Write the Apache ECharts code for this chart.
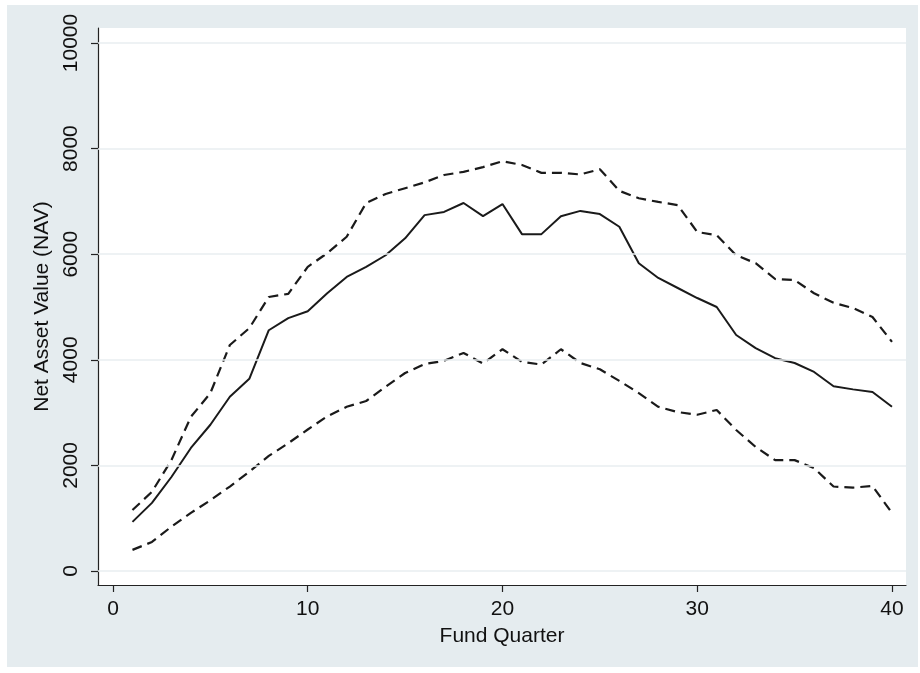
<!DOCTYPE html>
<html>
<head>
<meta charset="utf-8">
<script src="https://cdn.jsdelivr.net/npm/echarts@6/dist/echarts.min.js"></script>
<style>
html,body{margin:0;padding:0;background:#ffffff;}
#c{width:920px;height:673px;}
</style>
</head>
<body>
<div id="c"></div>
<script>
const quarters = [1,2,3,4,5,6,7,8,9,10,11,12,13,14,15,16,17,18,19,20,21,22,23,24,25,26,27,28,29,30,31,32,33,34,35,36,37,38,39,40];
const navMean = [930,1290,1780,2330,2770,3300,3640,4560,4790,4920,5260,5570,5760,5980,6300,6740,6800,6970,6720,6950,6380,6380,6720,6820,6760,6520,5830,5550,5360,5170,5000,4470,4220,4030,3940,3770,3500,3440,3390,3110];
const navUpper = [1155,1500,2100,2920,3370,4280,4600,5190,5250,5760,6020,6330,6970,7140,7250,7360,7500,7560,7650,7760,7690,7540,7540,7510,7610,7200,7060,6990,6930,6420,6360,5980,5830,5530,5510,5260,5080,4980,4810,4340];
const navLower = [400,550,840,1100,1340,1600,1880,2180,2420,2680,2930,3110,3220,3490,3750,3920,3980,4130,3930,4200,3960,3910,4200,3940,3820,3600,3370,3110,3010,2960,3050,2670,2350,2100,2100,1950,1600,1580,1610,1100];
const xTicks = [0,10,20,30,40];
const yTicks = [0,2000,4000,6000,8000,10000];

const pair = arr => quarters.map((q,i)=>[q,arr[i]]);
const font = '"Liberation Sans", Arial, Helvetica, sans-serif';
const chart = echarts.init(document.getElementById('c'), null, {renderer:'canvas'});
const lineCol = '#1a1a1a';

chart.setOption({
  animation:false,
  backgroundColor:'#ffffff',
  graphic:[{type:'rect', z:-10, shape:{x:7,y:5,width:911,height:662}, style:{fill:'#e5ecef'}}],
  grid:{left:98,right:14,top:28,bottom:88,show:true,backgroundColor:'#ffffff',borderWidth:0},
  xAxis:{
    type:'value', min:-0.77, max:40.72,
    name:'Fund Quarter', nameLocation:'middle', nameGap:41,
    nameTextStyle:{fontFamily:font,fontSize:21,color:'#111'},
    axisLine:{show:true,onZero:false,lineStyle:{color:'#222',width:1.2}},
    axisTick:{show:true,length:7,customValues:xTicks,lineStyle:{color:'#222',width:1.2}},
    axisLabel:{customValues:xTicks,margin:14,fontFamily:font,fontSize:21,color:'#111',formatter:v=>String(v)},
    splitLine:{show:false}
  },
  yAxis:{
    type:'value', min:-265, max:10284,
    name:'Net Asset Value (NAV)', nameLocation:'middle', nameGap:40,
    nameTextStyle:{fontFamily:font,fontSize:21,color:'#111'},
    axisLine:{show:true,onZero:false,lineStyle:{color:'#222',width:1.2}},
    axisTick:{show:true,length:7,customValues:yTicks,lineStyle:{color:'#222',width:1.2}},
    axisLabel:{customValues:yTicks,rotate:90,margin:16,fontFamily:font,fontSize:21,color:'#111',formatter:v=>String(v)},
    splitLine:{show:false}
  },
  series:[
    {type:'line', data:[], z:1, silent:true,
     markLine:{silent:true, symbol:['none','none'], label:{show:false},
       lineStyle:{color:'#e8eef1',width:1.5,type:'solid'},
       data:yTicks.map(v=>({yAxis:v}))}},
    {type:'line', data:pair(navUpper), z:3, showSymbol:false, symbol:'none',
     lineStyle:{color:lineCol,width:2.2,type:[10,6]}},
    {type:'line', data:pair(navMean), z:3, showSymbol:false, symbol:'none',
     lineStyle:{color:lineCol,width:2,type:'solid'}},
    {type:'line', data:pair(navLower), z:3, showSymbol:false, symbol:'none',
     lineStyle:{color:lineCol,width:2.2,type:[10,6]}}
  ]
});
</script>
</body>
</html>
